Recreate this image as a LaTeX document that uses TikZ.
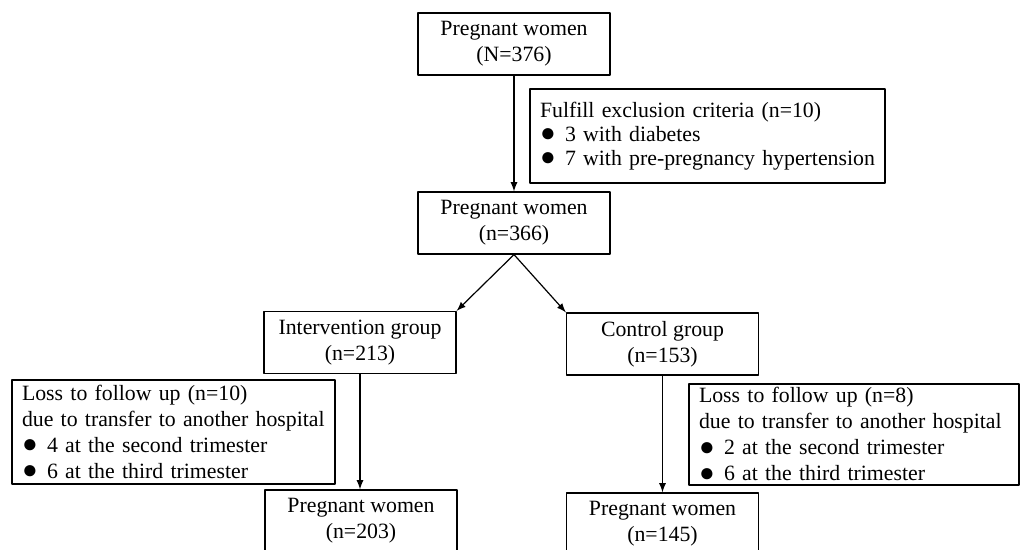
\documentclass[tikz,border=0pt]{standalone}
\usepackage{fontspec}
\setmainfont{Liberation Serif}
\newcommand{\bul}{\makebox[12.5pt][l]{\raisebox{-0.3pt}{\fontsize{13}{13}\selectfont ●}}}
\begin{document}
\begin{tikzpicture}[x=0.5pt,y=-0.5pt,line cap=round,line join=round,
  box/.style={draw,line width=0.6pt,minimum width=96pt,minimum height=31pt,inner sep=0pt,
    align=center,font=\fontsize{10.9}{13}\selectfont},
  listbox/.style={draw,line width=0.6pt,inner xsep=5pt,inner ysep=0pt,align=left,
    font=\fontsize{10.9}{13}\selectfont},
  arr/.style={->,>=latex,line width=0.6pt}]

% frame of the page
\clip (0,0) rectangle (1020,550);

% main boxes
\node[box] (all) at (514,44) {Pregnant women\\(N=376)};
\node[box] (elig) at (514,223) {Pregnant women\\(n=366)};
\node[box] (ig) at (360,342.5) {Intervention group\\(n=213)};
\node[box] (cg) at (662.5,344) {Control group\\(n=153)};
\node[box] (igend) at (361,521) {Pregnant women\\(n=203)};
\node[box] (cgend) at (662.5,524) {Pregnant women\\(n=145)};

% side boxes
\node[listbox,text width=167.5pt,minimum height=47pt,font=\fontsize{10.9}{12}\selectfont]
  (excl) at (707.5,136) {Fulfill exclusion criteria (n=10)\\
  \bul 3 with diabetes\\
  \bul 7 with pre-pregnancy hypertension};
\node[listbox,text width=151.5pt,minimum height=52pt] (iloss) at (173.5,432)
  {Loss to follow up (n=10)\\
  due to transfer to another hospital\\
  \bul 4 at the second trimester\\
  \bul 6 at the third trimester};
\node[listbox,text width=155pt,minimum height=50.5pt] (closs) at (854,434.5)
  {Loss to follow up (n=8)\\
  due to transfer to another hospital\\
  \bul 2 at the second trimester\\
  \bul 6 at the third trimester};

% arrows
\draw[arr] (all.south) -- (elig.north);
\draw[arr] (elig.south) -- (ig.north east);
\draw[arr] (elig.south) -- (cg.north west);
\draw[arr] (ig.south) -- (ig.south |- igend.north);
\draw[arr] (cg.south) -- (cgend.north);

\end{tikzpicture}
\end{document}
